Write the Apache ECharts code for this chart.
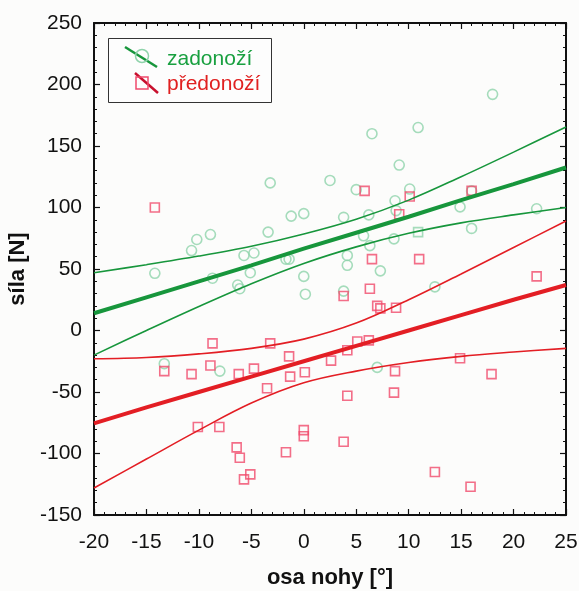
<!DOCTYPE html>
<html>
<head>
<meta charset="utf-8">
<script src="https://cdn.jsdelivr.net/npm/echarts@6/dist/echarts.min.js"></script>
<style>
  html, body { margin: 0; padding: 0; background: #fcfcfb; }
  #chart { width: 579px; height: 591px; }
</style>
</head>
<body>
<div id="chart"></div>
<script>
// Measured points: leg axis angle [°] vs. force [N]
const zadonoziX = [-14.2, -13.3, -10.7, -10.2, -8.9, -8.7, -8.0, -6.3, -6.1, -5.7, -5.1, -4.75, -3.4, -3.2, -1.7, -1.4, -1.2, 0, 0, 0.15, 2.5, 3.8, 3.8, 4.15, 4.15, 5.0, 5.7, 6.2, 6.3, 6.5, 7.0, 7.3, 8.6, 8.7, 8.8, 9.1, 10.1, 10.9, 12.5, 14.9, 16, 16, 18, 22.2];
const zadonoziY = [46.5, -27, 65, 74, 78, 42.5, -33, 37, 34, 61, 47, 63, 80, 120, 58, 58, 93, 95, 44, 29.5, 122, 92, 32, 61, 53, 114.5, 77, 94, 69, 160, -30, 48.5, 74.5, 105.5, 97.5, 134.5, 115, 165, 35.5, 100.5, 113.5, 83, 192, 99];
// one zadonoží point drawn with a square marker
const zadonoziSqX = [10.9];
const zadonoziSqY = [80];

const predonoziX = [-14.2, -13.3, -10.7, -10.1, -8.9, -8.7, -8.05, -6.4, -6.2, -6.1, -5.7, -5.1, -4.75, -3.5, -3.2, -1.7, -1.4, -1.3, 0.1, 0, 0, 2.6, 3.8, 3.8, 4.15, 4.15, 5.1, 5.8, 6.2, 6.3, 6.5, 7.0, 7.3, 8.6, 8.7, 8.8, 9.1, 10.1, 11, 12.5, 14.9, 15.9, 16, 17.9, 22.2];
const predonoziY = [100, -33, -35.5, -78.5, -28.5, -10.5, -78.5, -95, -35.5, -103.5, -121, -117, -31, -47, -10.5, -99, -21, -37.5, -34, -81, -86, -24.5, 28, -90.5, -16, -53, -9, 113.5, -8, 34, 58, 20, 18, -50.5, -33, 18.5, 94.5, 109, 58, -115, -22.5, -127, 113.5, -35.5, 44];

// Regression lines and their confidence bands, read at these angles
const bandX = [-20, -15, -10, -5, 0, 5, 10, 15, 20, 25];
const zadFit   = [14, 27, 40, 53, 66.5, 79.5, 92.5, 106, 119, 132.5];
const zadUpper = [47, 53.5, 60.5, 68.5, 78.5, 90.5, 106, 125, 145, 165.5];
const zadLower = [-20, 0, 19.5, 38, 54.5, 68, 79, 87.5, 94, 100];
const predFit   = [-75.5, -62.5, -50, -37.5, -25, -12.5, 0, 12.5, 25, 37];
const predUpper = [-23, -22, -19, -14.5, -7, 6, 25, 46, 67.5, 89];
const predLower = [-128, -104.5, -81, -59, -42.5, -33, -26, -21, -17.5, -14.5];

const GREEN = '#17963c';
const RED = '#e31e24';
const GREEN_PT = '#8fd3ab';
const RED_PT = '#f04a6c';
const FONT = 'Liberation Sans, Arial, sans-serif';

const pairs = (xs, ys) => xs.map((x, i) => [x, ys[i]]);

const chart = echarts.init(document.getElementById('chart'), null, { renderer: 'canvas' });

const tickFont = { color: '#111', fontSize: 21, fontFamily: FONT };
const nameFont = { color: '#111', fontSize: 22, fontWeight: 'bold', fontFamily: FONT };
const frame = { show: true, onZero: false, lineStyle: { color: '#111', width: 2 } };

function xAx(pos, labels) {
  return {
    type: 'value', position: pos, min: -20, max: 25, interval: 5,
    axisLine: frame,
    axisTick: { show: true, inside: true, length: 6, lineStyle: { color: '#111', width: 1.2 } },
    minorTick: { show: true, splitNumber: 5, length: 3, lineStyle: { color: '#111', width: 1 } },
    splitLine: { show: false },
    axisLabel: labels ? Object.assign({ show: true, margin: 17 }, tickFont) : { show: false },
    name: labels ? 'osa nohy [°]' : '',
    nameLocation: 'middle', nameGap: 52,
    nameTextStyle: nameFont
  };
}
function yAx(pos, labels) {
  return {
    type: 'value', position: pos, min: -150, max: 250, interval: 50,
    axisLine: frame,
    axisTick: { show: true, inside: true, length: 6, lineStyle: { color: '#111', width: 1.2 } },
    minorTick: { show: true, splitNumber: 5, length: 3, lineStyle: { color: '#111', width: 1 } },
    splitLine: { show: false },
    axisLabel: labels ? Object.assign({ show: true, margin: 12 }, tickFont) : { show: false },
    name: labels ? 'síla [N]' : '',
    nameLocation: 'middle', nameGap: 61, nameRotate: 90,
    nameTextStyle: nameFont
  };
}

function curve(ys, color, width, smooth) {
  return {
    type: 'line', data: pairs(bandX, ys), smooth: smooth, symbol: 'none', z: 5,
    lineStyle: { color: color, width: width }, silent: true
  };
}

chart.setOption({
  animation: false,
  backgroundColor: '#fcfcfb',
  grid: { left: 94, right: 13, top: 23, bottom: 76, containLabel: false, outerBoundsMode: 'none' },
  xAxis: [xAx('bottom', true), xAx('top', false)],
  yAxis: [yAx('left', true), yAx('right', false)],
  series: [
    {
      type: 'scatter', name: 'zadonoží', data: pairs(zadonoziX, zadonoziY), symbol: 'circle', symbolSize: 10, z: 3,
      itemStyle: { color: 'rgba(0,0,0,0)', borderColor: GREEN_PT, borderWidth: 1.6 }
    },
    {
      type: 'scatter', name: 'zadonoží', data: pairs(zadonoziSqX, zadonoziSqY), symbol: 'rect', symbolSize: 9, z: 3,
      itemStyle: { color: 'rgba(0,0,0,0)', borderColor: GREEN_PT, borderWidth: 1.6 }
    },
    {
      type: 'scatter', name: 'předonoží', data: pairs(predonoziX, predonoziY), symbol: 'rect', symbolSize: 9, z: 3,
      itemStyle: { color: 'rgba(0,0,0,0)', borderColor: RED_PT, borderWidth: 1.6 }
    },
    curve(zadUpper, GREEN, 1.6, 0.35),
    curve(zadLower, GREEN, 1.6, 0.35),
    curve(zadFit, GREEN, 4, false),
    curve(predUpper, RED, 1.6, 0.35),
    curve(predLower, RED, 1.6, 0.35),
    curve(predFit, RED, 4, false)
  ],
  graphic: [
    { type: 'rect', shape: { x: 108.5, y: 38.5, width: 163, height: 64 }, style: { fill: '#fdfdfd', stroke: '#333', lineWidth: 1 }, z: 10 },
    { type: 'line', shape: { x1: 125, y1: 47, x2: 157, y2: 67 }, style: { stroke: GREEN, lineWidth: 2.5 }, z: 11 },
    { type: 'circle', shape: { cx: 142, cy: 56, r: 6.5 }, style: { fill: 'none', stroke: GREEN_PT, lineWidth: 1.5 }, z: 12 },
    { type: 'text', style: { x: 167, y: 59, text: 'zadonoží', fill: '#19a040', fontSize: 21, fontFamily: FONT, verticalAlign: 'middle' }, z: 12 },
    { type: 'line', shape: { x1: 135, y1: 73, x2: 158, y2: 93 }, style: { stroke: '#c8102e', lineWidth: 2.5 }, z: 11 },
    { type: 'rect', shape: { x: 136, y: 77, width: 12, height: 12 }, style: { fill: 'none', stroke: RED_PT, lineWidth: 1.5 }, z: 12 },
    { type: 'text', style: { x: 167, y: 84, text: 'předonoží', fill: '#e02020', fontSize: 21, fontFamily: FONT, verticalAlign: 'middle' }, z: 12 }
  ]
});
</script>
</body>
</html>
